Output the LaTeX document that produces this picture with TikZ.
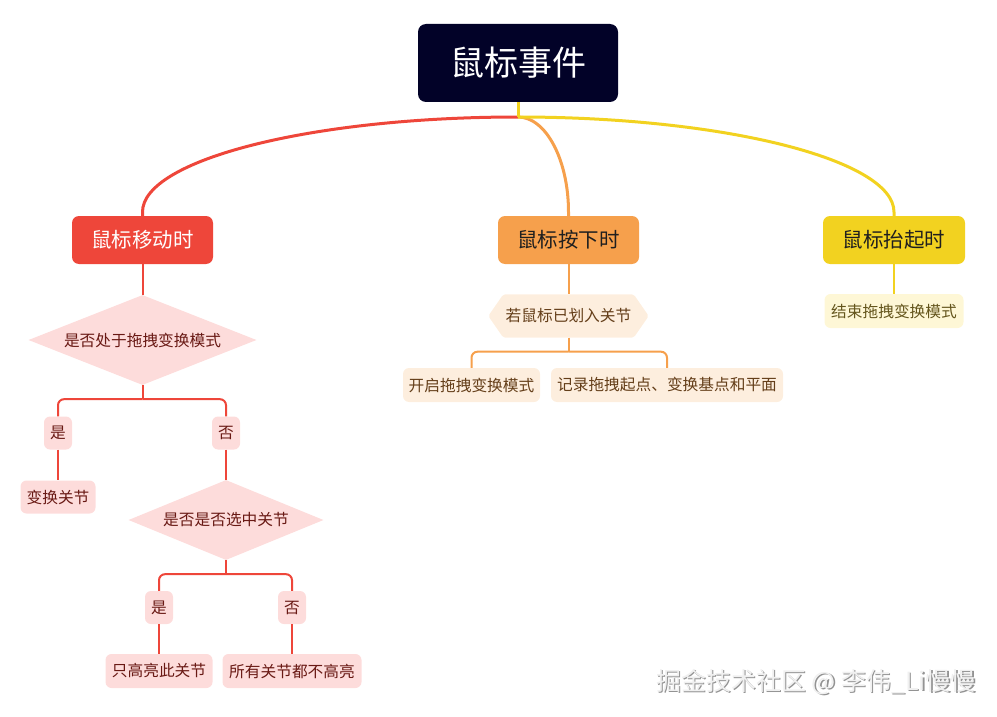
\documentclass[tikz,border=0pt]{standalone}
\usepackage{fontspec}
\setmainfont{Noto Sans CJK SC}
\usetikzlibrary{shapes.geometric,backgrounds}

\definecolor{rootfill}{RGB}{2,2,40}
\definecolor{movered}{RGB}{238,70,58}
\definecolor{downorange}{RGB}{246,160,76}
\definecolor{upyellow}{RGB}{242,210,32}
\definecolor{movepink}{RGB}{253,220,219}
\definecolor{downpeach}{RGB}{253,238,222}
\definecolor{upcream}{RGB}{254,247,214}
\definecolor{movetext}{RGB}{105,25,20}
\definecolor{downtext}{RGB}{100,62,25}
\definecolor{uptext}{RGB}{100,85,28}

\begin{document}
\begin{tikzpicture}[x=1pt,y=-1pt,
    topic/.style={rounded corners=7pt, inner sep=0pt, minimum height=48pt, font=\fontsize{20.5}{20.5}\selectfont},
    leaf/.style={rounded corners=6pt, inner sep=0pt, minimum height=34pt, font=\fontsize{15.7}{15.7}\selectfont},
    choice/.style={diamond, inner sep=0pt, font=\fontsize{15.7}{15.7}\selectfont},
    moveleaf/.style={leaf, fill=movepink, text=movetext},
    movechoice/.style={choice, fill=movepink, text=movetext},
    downleaf/.style={leaf, fill=downpeach, text=downtext},
    upleaf/.style={leaf, fill=upcream, text=uptext},
    mainline/.style={line width=3pt},
    moveline/.style={movered, line width=2pt},
    downline/.style={downorange, line width=2pt},
    upline/.style={upyellow, line width=2pt}]

    \useasboundingbox (0,0) rectangle (997,717);

    \node[fill=rootfill, text=white, rounded corners=8pt, inner sep=0pt, minimum width=200pt, minimum height=78pt, font=\fontsize{34}{34}\selectfont] (root) at (518,63) {鼠标事件};

    \node[topic, fill=movered, text=white, minimum width=141pt] (move) at (142.5,240) {鼠标移动时};
    \node[topic, fill=downorange, text=black!88, minimum width=141pt] (down) at (568.5,240) {鼠标按下时};
    \node[topic, fill=upyellow, text=black!88, minimum width=142pt] (up) at (894,240) {鼠标抬起时};

    \node[movechoice, aspect=2.5, minimum width=228pt, minimum height=90pt] (drag) at (142.5,340) {是否处于拖拽变换模式};
    \node[moveleaf, minimum width=28pt, minimum height=33pt] (yes1) at (58,433) {是};
    \node[moveleaf, minimum width=28pt, minimum height=33pt] (no1) at (226,433) {否};
    \node[moveleaf, minimum width=75pt, minimum height=33pt] (turn) at (58,497) {变换关节};
    \node[movechoice, aspect=2.4, minimum width=195pt, minimum height=80pt] (pick) at (226,520) {是否是否选中关节};
    \node[moveleaf, minimum width=28pt, minimum height=33pt] (yes2) at (159,607.5) {是};
    \node[moveleaf, minimum width=28pt, minimum height=33pt] (no2) at (292,607.5) {否};
    \node[moveleaf, minimum width=107pt] (only) at (159,671) {只高亮此关节};
    \node[moveleaf, minimum width=139pt] (none) at (292,671) {所有关节都不高亮};

    \node[inner sep=0pt, minimum width=160pt, minimum height=43pt, text=downtext, font=\fontsize{15.7}{15.7}\selectfont] (over) at (568.5,316) {若鼠标已划入关节};
    \begin{scope}[on background layer]
        \fill[downpeach, rounded corners=2pt] (over.west) -- ([xshift=15pt]over.north west) -- ([xshift=-15pt]over.north east)
            -- (over.east) -- ([xshift=-15pt]over.south east) -- ([xshift=15pt]over.south west) -- cycle;
    \end{scope}
    \node[downleaf, minimum width=137pt] (start) at (471.5,385) {开启拖拽变换模式};
    \node[downleaf, minimum width=232pt] (record) at (667,385) {记录拖拽起点、变换基点和平面};

    \node[upleaf, minimum width=139pt] (stop) at (894,311) {结束拖拽变换模式};

    \coordinate (hub) at (518,117);
    \draw[mainline, movered] (hub) .. controls (311,117) and (142.5,160) .. (142.5,212) -- (move.north);
    \draw[mainline, downorange] (hub) .. controls (546,117) and (568.5,160) .. (568.5,212) -- (down.north);
    \draw[mainline, upyellow] (hub) .. controls (725,117) and (894,160) .. (894,212) -- (up.north);
    \draw[mainline, upyellow] (root.south) -- (hub);

    \draw[moveline] (move.south) -- (drag.north);
    \draw[moveline] (drag.south) -- ++(0,14) coordinate (dragfork);
    \draw[moveline, rounded corners=6pt] (dragfork) -| (yes1.north);
    \draw[moveline, rounded corners=6pt] (dragfork) -| (no1.north);
    \draw[moveline] (yes1.south) -- (turn.north);
    \draw[moveline] (no1.south) -- (pick.north);
    \draw[moveline] (pick.south) -- ++(0,14) coordinate (pickfork);
    \draw[moveline, rounded corners=6pt] (pickfork) -| (yes2.north);
    \draw[moveline, rounded corners=6pt] (pickfork) -| (no2.north);
    \draw[moveline] (yes2.south) -- (only.north);
    \draw[moveline] (no2.south) -- (none.north);

    \draw[downline] (down.south) -- (over.north);
    \draw[downline] (over.south) -- ++(0,14) coordinate (overfork);
    \draw[downline, rounded corners=6pt] (overfork) -| (start.north);
    \draw[downline, rounded corners=6pt] (overfork) -| (record.north);

    \draw[upline] (up.south) -- (stop.north);

    \node[text=gray!85, font=\fontsize{25}{25}\selectfont] (markshade) at (817.4,683.4) {掘金技术社区 @ 李伟\_Li慢慢};
    \node[text=gray!12, font=\fontsize{25}{25}\selectfont] (mark) at (816,682) {掘金技术社区 @ 李伟\_Li慢慢};
\end{tikzpicture}
\end{document}
